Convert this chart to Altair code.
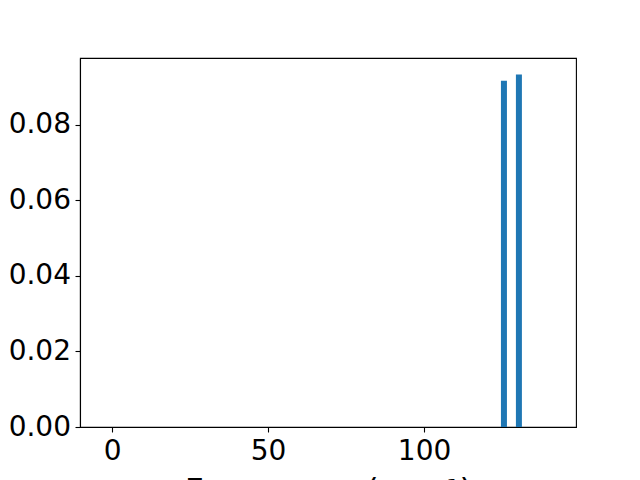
import altair as alt
import pandas as pd

freqs = [125.6, 130.4]
intensities = [0.0917, 0.0933]
x_ticks = [0, 50, 100]
y_ticks = [0.00, 0.02, 0.04, 0.06, 0.08]

df = pd.DataFrame({"freq": freqs, "inten": intensities})

chart = alt.Chart(df).mark_bar(size=6, color="#1f77b4").encode(
    x=alt.X("freq:Q",
            scale=alt.Scale(domain=[-10.3, 148.7], nice=False, zero=False, padding=0),
            axis=alt.Axis(values=x_ticks, title="Frequency (cm⁻¹)", format="d",
                          titlePadding=11, labelPadding=5, titleFontSize=33)),
    y=alt.Y("inten:Q",
            scale=alt.Scale(domain=[0, 0.0977], nice=False, padding=0),
            axis=alt.Axis(values=y_ticks, title=None, format=".2f", labelPadding=4.5)),
).properties(
    width=496, height=369,
    padding={"left": 72, "top": 50, "right": 56, "bottom": 90},
    autosize=alt.AutoSizeParams(type="none"),
).configure_view(
    stroke="black", strokeWidth=1.1
).configure_axis(
    grid=False, domainColor="black", domainWidth=1.1,
    tickColor="black", tickSize=5, tickWidth=1.1,
    labelFont="DejaVu Sans", labelFontSize=28, labelColor="black",
    titleFont="DejaVu Sans", titleFontWeight="normal", titleColor="black",
)

chart.save("out.html", embed_options={"renderer": "svg", "actions": False})
